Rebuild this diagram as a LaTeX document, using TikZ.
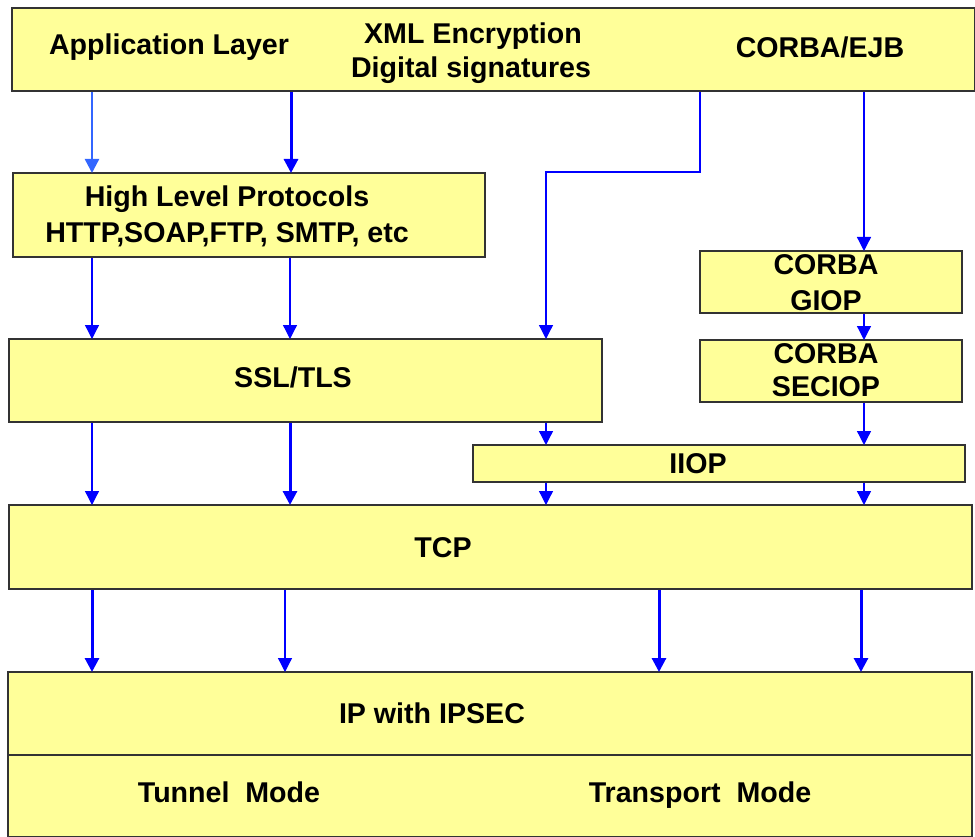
\documentclass[tikz,border=0pt]{standalone}
\usepackage{fontspec}
\setmainfont{Liberation Sans}
\usetikzlibrary{arrows.meta}

\definecolor{layerfill}{HTML}{FFFF99}
\definecolor{layerdraw}{HTML}{333333}
\definecolor{flowblue}{HTML}{0000FF}
\definecolor{flowlight}{HTML}{3366FF}

\tikzset{
  layer/.style={draw=layerdraw, fill=layerfill, line width=1.8pt, inner sep=0pt},
  lbl/.style={anchor=base, inner sep=0pt, font=\bfseries\fontsize{28.6}{34}\selectfont},
  flow/.style={draw=flowblue, line width=1.3pt,
    -{Triangle[width=14pt 0 0,length=14pt 0 0]}, shorten >=-1pt},
  flowthick/.style={flow, line width=3pt},
  flowpale/.style={flow, draw=flowlight, line width=2.4pt},
}

\begin{document}
\begin{tikzpicture}[x=1pt, y=-1pt]
\useasboundingbox (0,0) rectangle (975,837);

% layers
\node[layer, minimum width=963pt, minimum height=83pt, anchor=north west] (app) at (11,7) {};
\node[layer, minimum width=472pt, minimum height=84pt, anchor=north west] (hlp) at (12,172) {};
\node[layer, minimum width=593pt, minimum height=83pt, anchor=north west] (ssl) at (8,338) {};
\node[layer, minimum width=262pt, minimum height=62pt, anchor=north west] (giop) at (699,250) {};
\node[layer, minimum width=262pt, minimum height=62pt, anchor=north west] (seciop) at (699,339) {};
\node[layer, minimum width=492pt, minimum height=37pt, anchor=north west] (iiop) at (472,444) {};
\node[layer, minimum width=963pt, minimum height=84pt, anchor=north west] (tcp) at (8,504) {};
\node[layer, minimum width=964pt, minimum height=83pt, anchor=north west] (ip) at (7,671) {};
\node[layer, minimum width=964pt, minimum height=82pt, anchor=north west] (modes) at (7,754) {};

% labels
\node[lbl] (tApp) at (169,55) {Application Layer};
\node[lbl] (tXml) at (473,44) {XML Encryption};
\node[lbl] (tSig) at (471,78) {Digital signatures};
\node[lbl] (tCorba) at (820,58) {CORBA/EJB};
\node[lbl] (tHlp1) at (227,207) {High Level Protocols};
\node[lbl] (tHlp2) at (227,243) {HTTP,SOAP,FTP, SMTP, etc};
\node[lbl] (tSsl) at (293,387) {SSL/TLS};
\node[lbl] (tGiop1) at (826,275) {CORBA};
\node[lbl] (tGiop2) at (826,310) {GIOP};
\node[lbl] (tSec1) at (826,363) {CORBA};
\node[lbl] (tSec2) at (826,396) {SECIOP};
\node[lbl] (tIiop) at (698,473) {IIOP};
\node[lbl] (tTcp) at (443,557) {TCP};
\node[lbl] (tIp) at (432,723) {IP with IPSEC};
\node[lbl] (tTun) at (229,802) {Tunnel\ \ Mode};
\node[lbl] (tTra) at (700,802) {Transport\ \ Mode};

% application layer downwards
\draw[flowpale]  (app.south -| 92,0)  -- (hlp.north -| 92,0);
\draw[flowthick] (app.south -| 291,0) -- (hlp.north -| 291,0);
\coordinate (bendA) at (700,172);
\coordinate (bendB) at (546,172);
\draw[flow] (app.south -| bendA) -- (bendA) -- (bendB) -- (ssl.north -| bendB);
\draw[flow] (app.south -| 864,0) -- (giop.north -| 864,0);

% high level protocols to SSL/TLS
\draw[flow] (hlp.south -| 92,0)  -- (ssl.north -| 92,0);
\draw[flow] (hlp.south -| 290,0) -- (ssl.north -| 290,0);

% CORBA stack
\draw[flow] (giop.south -| 864,0)   -- (seciop.north -| 864,0);
\draw[flow] (seciop.south -| 864,0) -- (iiop.north -| 864,0);
\draw[flow] (ssl.south -| 546,0)    -- (iiop.north -| 546,0);

% down to TCP
\draw[flow]      (ssl.south -| 92,0)  -- (tcp.north -| 92,0);
\draw[flowthick] (ssl.south -| 290,0) -- (tcp.north -| 290,0);
\draw[flow]      (iiop.south -| 546,0) -- (tcp.north -| 546,0);
\draw[flow]      (iiop.south -| 864,0) -- (tcp.north -| 864,0);

% TCP to IP
\draw[flowthick] (tcp.south -| 92,0)  -- (ip.north -| 92,0);
\draw[flow]      (tcp.south -| 285,0) -- (ip.north -| 285,0);
\draw[flowthick] (tcp.south -| 659,0) -- (ip.north -| 659,0);
\draw[flowthick] (tcp.south -| 861,0) -- (ip.north -| 861,0);
\end{tikzpicture}
\end{document}
